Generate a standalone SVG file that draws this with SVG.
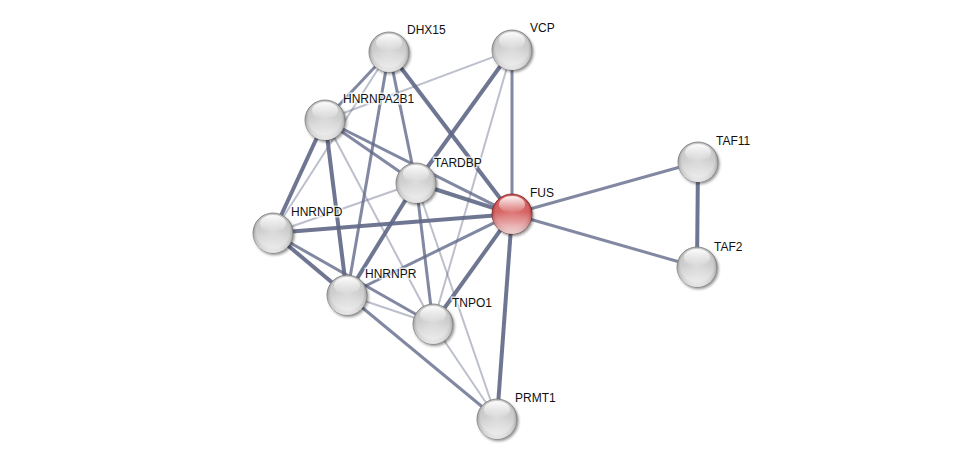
<svg xmlns="http://www.w3.org/2000/svg" width="976" height="465" viewBox="0 0 976 465">
<defs>
<radialGradient id="gBody" cx="50%" cy="45%" r="55%">
<stop offset="0" stop-color="#dadada"/>
<stop offset="0.75" stop-color="#cbcbcb"/>
<stop offset="1" stop-color="#858585"/>
</radialGradient>
<linearGradient id="gBottom" x1="0" y1="0" x2="0" y2="1">
<stop offset="0.45" stop-color="#ffffff" stop-opacity="0"/>
<stop offset="1" stop-color="#ffffff" stop-opacity="0.8"/>
</linearGradient>
<radialGradient id="gRed" cx="50%" cy="45%" r="55%">
<stop offset="0" stop-color="#de7474"/>
<stop offset="0.75" stop-color="#d46262"/>
<stop offset="1" stop-color="#982a2a"/>
</radialGradient>
<linearGradient id="gHi" x1="0" y1="0" x2="0" y2="1">
<stop offset="0" stop-color="#ffffff" stop-opacity="0.95"/>
<stop offset="1" stop-color="#ffffff" stop-opacity="0"/>
</linearGradient>
<filter id="sh" x="-50%" y="-50%" width="200%" height="200%">
<feGaussianBlur stdDeviation="1.8"/>
</filter>
</defs>
<style>
.e{fill:none;stroke:#5f6786;stroke-linecap:butt}
.t{stroke-width:4;stroke-opacity:0.9}
.m{stroke-width:3;stroke-opacity:0.78}
.l{stroke-width:2;stroke-opacity:0.42}
.sh{fill:#000;opacity:0.45;filter:url(#sh)}
.b{fill:url(#gBody);stroke:#7a7a7a;stroke-width:0.8}
.r{fill:url(#gRed);stroke:#7d2020;stroke-width:0.8}
.bt{fill:url(#gBottom)}
.hi{fill:url(#gHi)}
text{font-family:"Liberation Sans",Arial,sans-serif;font-size:12px;fill:#111;stroke:#fff;stroke-width:3;stroke-opacity:0.7;paint-order:stroke}
</style>
<rect width="976" height="465" fill="#fff"/>
<g id="edges">
<line class="e m" x1="389" y1="52" x2="325" y2="120"/>
<line class="e l" x1="389" y1="52" x2="273" y2="233"/>
<line class="e m" x1="389" y1="52" x2="347" y2="295"/>
<line class="e m" x1="389" y1="52" x2="416" y2="183"/>
<line class="e t" x1="389" y1="52" x2="512" y2="214"/>
<line class="e m" x1="512" y1="50" x2="512" y2="214"/>
<line class="e t" x1="512" y1="50" x2="416" y2="183"/>
<line class="e l" x1="512" y1="50" x2="325" y2="120"/>
<line class="e l" x1="512" y1="50" x2="433" y2="324"/>
<line class="e t" x1="325" y1="120" x2="273" y2="233"/>
<line class="e t" x1="325" y1="120" x2="347" y2="295"/>
<line class="e m" x1="325" y1="120" x2="416" y2="183"/>
<line class="e m" x1="325" y1="120" x2="512" y2="214"/>
<line class="e l" x1="325" y1="120" x2="433" y2="324"/>
<line class="e t" x1="416" y1="183" x2="512" y2="214"/>
<line class="e l" x1="416" y1="183" x2="273" y2="233"/>
<line class="e t" x1="416" y1="183" x2="347" y2="295"/>
<line class="e m" x1="416" y1="183" x2="433" y2="324"/>
<line class="e l" x1="416" y1="183" x2="497" y2="419"/>
<line class="e t" x1="512" y1="214" x2="273" y2="233"/>
<line class="e m" x1="512" y1="214" x2="347" y2="295"/>
<line class="e t" x1="512" y1="214" x2="433" y2="324"/>
<line class="e t" x1="512" y1="214" x2="497" y2="419"/>
<line class="e m" x1="512" y1="214" x2="698" y2="162"/>
<line class="e m" x1="512" y1="214" x2="697" y2="267"/>
<line class="e t" x1="273" y1="233" x2="347" y2="295"/>
<line class="e m" x1="273" y1="233" x2="433" y2="324"/>
<line class="e m" x1="347" y1="295" x2="497" y2="419"/>
<line class="e l" x1="347" y1="295" x2="433" y2="324"/>
<line class="e l" x1="433" y1="324" x2="497" y2="419"/>
<line class="e t" x1="698" y1="162" x2="697" y2="267"/>
</g>
<g id="DHX15"><circle class="sh" cx="390.5" cy="54" r="20"/><circle class="b" cx="389" cy="52" r="20"/><circle class="bt" cx="389" cy="52" r="20"/><ellipse class="hi" cx="389" cy="42.5" rx="13" ry="8.5"/><text x="407" y="34">DHX15</text></g>
<g id="VCP"><circle class="sh" cx="513.5" cy="52" r="20"/><circle class="b" cx="512" cy="50" r="20"/><circle class="bt" cx="512" cy="50" r="20"/><ellipse class="hi" cx="512" cy="40.5" rx="13" ry="8.5"/><text x="530" y="32">VCP</text></g>
<g id="HNRNPA2B1"><circle class="sh" cx="326.5" cy="122" r="20"/><circle class="b" cx="325" cy="120" r="20"/><circle class="bt" cx="325" cy="120" r="20"/><ellipse class="hi" cx="325" cy="110.5" rx="13" ry="8.5"/><text x="343" y="103">HNRNPA2B1</text></g>
<g id="TARDBP"><circle class="sh" cx="417.5" cy="185" r="20"/><circle class="b" cx="416" cy="183" r="20"/><circle class="bt" cx="416" cy="183" r="20"/><ellipse class="hi" cx="416" cy="173.5" rx="13" ry="8.5"/><text x="434" y="167">TARDBP</text></g>
<g id="FUS"><circle class="sh" cx="513.5" cy="216" r="20"/><circle class="r" cx="512" cy="214" r="20"/><circle class="bt" cx="512" cy="214" r="20"/><ellipse class="hi" cx="512" cy="204.5" rx="13" ry="8.5"/><text x="530" y="197">FUS</text></g>
<g id="HNRNPD"><circle class="sh" cx="274.5" cy="235" r="20"/><circle class="b" cx="273" cy="233" r="20"/><circle class="bt" cx="273" cy="233" r="20"/><ellipse class="hi" cx="273" cy="223.5" rx="13" ry="8.5"/><text x="291" y="216">HNRNPD</text></g>
<g id="HNRNPR"><circle class="sh" cx="348.5" cy="297" r="20"/><circle class="b" cx="347" cy="295" r="20"/><circle class="bt" cx="347" cy="295" r="20"/><ellipse class="hi" cx="347" cy="285.5" rx="13" ry="8.5"/><text x="365" y="278">HNRNPR</text></g>
<g id="TNPO1"><circle class="sh" cx="434.5" cy="326" r="20"/><circle class="b" cx="433" cy="324" r="20"/><circle class="bt" cx="433" cy="324" r="20"/><ellipse class="hi" cx="433" cy="314.5" rx="13" ry="8.5"/><text x="452" y="307">TNPO1</text></g>
<g id="PRMT1"><circle class="sh" cx="498.5" cy="421" r="20"/><circle class="b" cx="497" cy="419" r="20"/><circle class="bt" cx="497" cy="419" r="20"/><ellipse class="hi" cx="497" cy="409.5" rx="13" ry="8.5"/><text x="515" y="402">PRMT1</text></g>
<g id="TAF11"><circle class="sh" cx="699.5" cy="164" r="20"/><circle class="b" cx="698" cy="162" r="20"/><circle class="bt" cx="698" cy="162" r="20"/><ellipse class="hi" cx="698" cy="152.5" rx="13" ry="8.5"/><text x="716" y="145">TAF11</text></g>
<g id="TAF2"><circle class="sh" cx="698.5" cy="269" r="20"/><circle class="b" cx="697" cy="267" r="20"/><circle class="bt" cx="697" cy="267" r="20"/><ellipse class="hi" cx="697" cy="257.5" rx="13" ry="8.5"/><text x="714" y="251">TAF2</text></g>
</svg>
